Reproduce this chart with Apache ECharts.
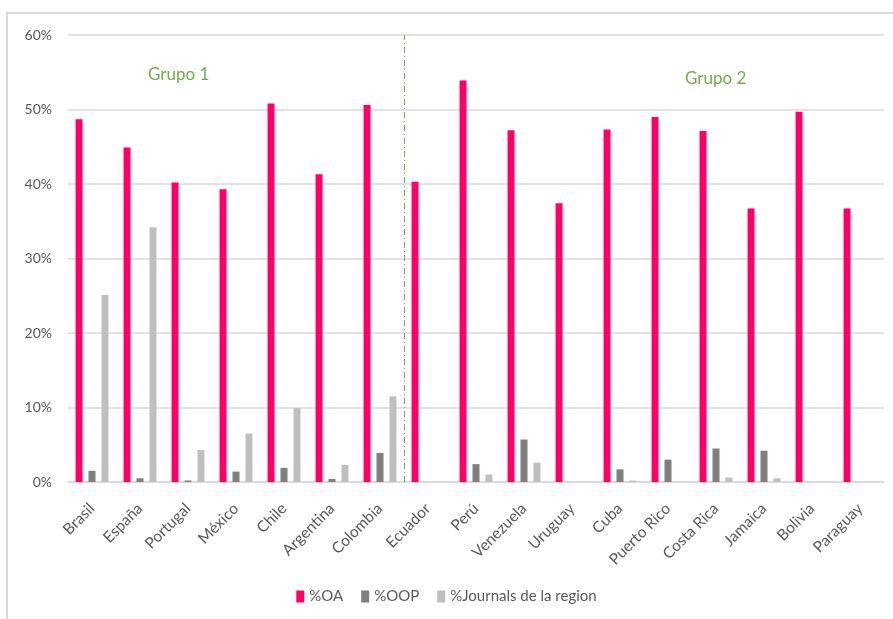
<!DOCTYPE html>
<html>
<head>
<meta charset="utf-8">
<script src="https://cdn.jsdelivr.net/npm/echarts@6/dist/echarts.min.js"></script>
<style>
html,body{margin:0;padding:0;background:#fff;}
#chart{width:893px;height:619px;}
</style>
</head>
<body>
<div id="chart"></div>
<script>
const categories = ['Brasil','España','Portugal','México','Chile','Argentina','Colombia','Ecuador','Perú','Venezuela','Uruguay','Cuba','Puerto Rico','Costa Rica','Jamaica','Bolivia','Paraguay'];
const oa = [48.7,44.9,40.2,39.3,50.8,41.3,50.6,40.3,53.9,47.2,37.4,47.3,49.0,47.1,36.7,49.7,36.7];
const oop = [1.5,0.5,0.2,1.4,1.9,0.4,3.9,0,2.4,5.7,0,1.7,3.0,4.5,4.2,0,0];
const journals = [25.1,34.2,4.3,6.5,9.9,2.3,11.5,0,1.0,2.6,0,0.2,0,0.6,0.5,0,0];
const yTicks = [0,10,20,30,40,50,60];
const groupSplitIndex = 7;
const groupLabels = ['Grupo 1','Grupo 2'];

const chart = echarts.init(document.getElementById('chart'));
const font = 'Lato, "Open Sans", sans-serif';
const txt = '#595959';
chart.setOption({
  animation:false,
  textStyle:{fontFamily:font},
  grid:{left:68,right:9,top:35,bottom:137,containLabel:false},
  legend:{
    bottom:10,left:'center',
    itemWidth:8,itemHeight:12,itemGap:18,
    icon:'rect',
    textStyle:{color:txt,fontSize:15,fontFamily:font},
    data:['%OA','%OOP','%Journals de la region']
  },
  graphic:[
    {type:'rect',shape:{x:7,y:13,width:900,height:620},style:{fill:'none',stroke:'#d9d9d9',lineWidth:2},silent:true},
    {type:'text',left:148,top:66,style:{text:groupLabels[0],fill:'#70AD47',fontSize:17,fontFamily:font}},
    {type:'text',left:685,top:70,style:{text:groupLabels[1],fill:'#70AD47',fontSize:17,fontFamily:font}}
  ],
  xAxis:[{
    type:'category',data:categories,boundaryGap:true,
    axisLine:{show:true,lineStyle:{color:'#d9d9d9',width:1.5}},
    axisTick:{show:false},
    axisLabel:{rotate:45,color:txt,fontSize:15.5,fontFamily:font,interval:0,margin:24},
    splitLine:{show:false}
  },{
    type:'value',min:0,max:categories.length,show:false,
    axisLine:{show:false},axisTick:{show:false},axisLabel:{show:false},splitLine:{show:false}
  }],
  yAxis:{
    type:'value',min:0,max:60,interval:10,
    axisLine:{show:false},axisTick:{show:false},
    axisLabel:{formatter:function(v){return yTicks.indexOf(v)>=0? v+'%':'';},color:txt,fontSize:14,fontFamily:font,margin:16},
    splitLine:{lineStyle:{color:'#d9d9d9',width:1.5}}
  },
  series:[
    {name:'%OA',type:'bar',data:oa,barWidth:7,barGap:'85%',itemStyle:{color:'#FF0066'}},
    {name:'%OOP',type:'bar',data:oop,barWidth:7,barGap:'85%',itemStyle:{color:'#7F7F7F'}},
    {name:'%Journals de la region',type:'bar',data:journals,barWidth:7,barGap:'85%',itemStyle:{color:'#BFBFBF'}},
    {name:'sep',type:'line',xAxisIndex:1,data:[],silent:true,
      markLine:{silent:true,symbol:'none',label:{show:false},
        lineStyle:{color:'#70AD47',width:1,type:[6,3,1,3]},
        data:[{xAxis:groupSplitIndex}]}}
  ]
});
</script>
</body>
</html>
